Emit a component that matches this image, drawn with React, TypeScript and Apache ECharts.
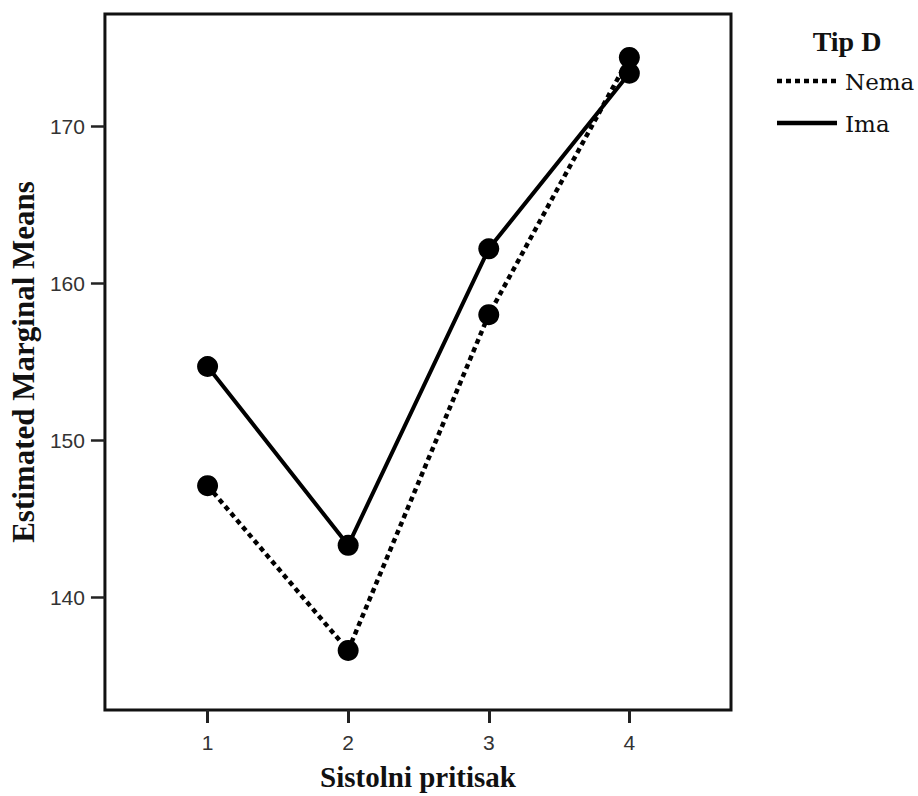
import React, { useEffect, useRef } from "react";
import * as echarts from "echarts";

const xValues = [1, 2, 3, 4];
const nemaValues = [147.1, 136.6, 158.0, 174.4];
const imaValues = [154.7, 143.3, 162.2, 173.4];
const yTicks = [140, 150, 160, 170];
const seriesNames = ["Nema", "Ima"];
const legendTitle = "Tip D";
const xName = "Sistolni pritisak";
const yName = "Estimated Marginal Means";

export default function App() {
  const ref = useRef<HTMLDivElement>(null);
  useEffect(() => {
    if (!ref.current) return;
    const chart = echarts.init(ref.current, undefined, { renderer: "svg" });
    const serif = "'Liberation Serif', serif";
    const sans = "'Liberation Sans', sans-serif";
    const toPairs = (vals: number[]) => xValues.map((x, i) => [x, vals[i]]);
    const legendText = (text: string, y: number) => ({
      type: "text",
      x: 845,
      y,
      style: {
        text,
        fontFamily: "DejaVu Serif",
        fontSize: 23,
        fontWeight: "normal",
        fill: "#111",
        align: "left",
        verticalAlign: "middle",
      },
    });
    chart.setOption({
      animation: false,
      backgroundColor: "#fff",
      grid: {
        left: 99,
        top: 14,
        right: 187,
        bottom: 84,
        show: true,
        borderColor: "#111",
        borderWidth: 3,
        backgroundColor: "transparent",
      },
      xAxis: {
        type: "value",
        min: 0.27,
        max: 4.723,
        name: xName,
        nameLocation: "middle",
        nameGap: 52,
        nameTextStyle: { fontFamily: serif, fontWeight: "bold", fontSize: 29, color: "#111" },
        axisLine: { show: false },
        splitLine: { show: false },
        axisTick: { show: true, customValues: xValues, length: 13, lineStyle: { color: "#222", width: 3 } },
        axisLabel: { customValues: xValues, margin: 22, fontFamily: sans, fontSize: 21, color: "#333" },
      },
      yAxis: {
        type: "value",
        min: 132.8,
        max: 177.17,
        name: yName,
        nameLocation: "middle",
        nameRotate: 90,
        nameGap: 61,
        nameTextStyle: { fontFamily: serif, fontWeight: "bold", fontSize: 31, color: "#111" },
        axisLine: { show: false },
        splitLine: { show: false },
        axisTick: { show: true, customValues: yTicks, length: 14, lineStyle: { color: "#222", width: 2.5 } },
        axisLabel: { customValues: yTicks, margin: 20, fontFamily: sans, fontSize: 21, color: "#333" },
      },
      series: [
        {
          name: seriesNames[0],
          type: "line",
          data: toPairs(nemaValues),
          symbol: "circle",
          symbolSize: 21,
          itemStyle: { color: "#000" },
          lineStyle: { color: "#000", width: 4.5, type: [5, 4] },
        },
        {
          name: seriesNames[1],
          type: "line",
          data: toPairs(imaValues),
          symbol: "circle",
          symbolSize: 21,
          itemStyle: { color: "#000" },
          lineStyle: { color: "#000", width: 4, type: "solid" },
        },
      ],
      graphic: [
        {
          type: "text",
          x: 847,
          y: 41,
          style: {
            text: legendTitle,
            font: `normal normal bold 28px ${serif}`,
            fill: "#111",
            align: "center",
            verticalAlign: "middle",
          },
        },
        {
          type: "line",
          shape: { x1: 777, y1: 81, x2: 837, y2: 81 },
          style: { stroke: "#000", lineWidth: 4.5, lineDash: [5, 4] },
        },
        legendText(seriesNames[0], 82),
        {
          type: "line",
          shape: { x1: 777, y1: 123, x2: 837, y2: 123 },
          style: { stroke: "#000", lineWidth: 4.5 },
        },
        legendText(seriesNames[1], 124),
      ],
    });
    return () => chart.dispose();
  }, []);
  return (
    <div
      ref={ref}
      style={{ position: "fixed", left: 0, top: 0, width: 918, height: 796, background: "#fff" }}
    />
  );
}
